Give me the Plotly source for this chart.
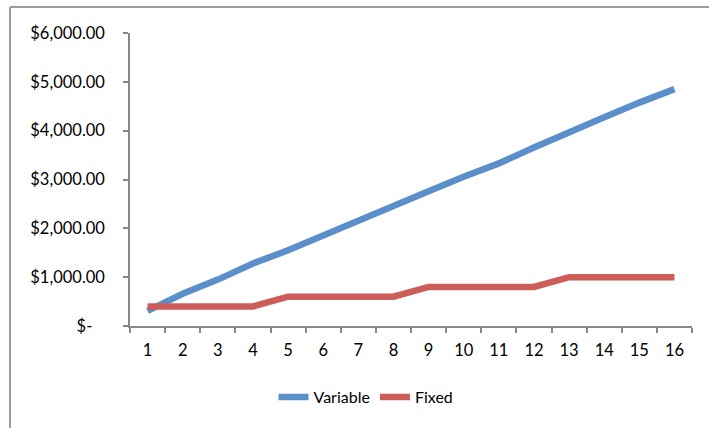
import plotly.graph_objects as go

# Monthly cost data
units = list(range(1, 17))
variable_cost = [310, 660, 950, 1280, 1550, 1860, 2170, 2470, 2760, 3055, 3330, 3655, 3980, 4275, 4575, 4850]
fixed_cost = [400, 400, 400, 400, 600, 600, 600, 600, 800, 800, 800, 800, 1000, 1000, 1000, 1000]

y_ticks = [0, 1000, 2000, 3000, 4000, 5000, 6000]
y_tick_labels = ["$-\u00a0\u00a0\u00a0", "$1,000.00", "$2,000.00", "$3,000.00",
                 "$4,000.00", "$5,000.00", "$6,000.00"]

BLUE = "#5A8FCA"
RED = "#CD5D58"
AXIS = "#878787"
FONT = "Lato"

fig = go.Figure()
fig.add_trace(go.Scatter(x=units, y=variable_cost, name="Variable", mode="lines",
                         line=dict(color=BLUE, width=6.5)))
fig.add_trace(go.Scatter(x=units, y=fixed_cost, name="Fixed", mode="lines",
                         line=dict(color=RED, width=6.5)))

W, H = 709, 428
L, R, T, B = 130, 17, 33, 102
pw, ph = W - L - R, H - T - B

def px_x(p):
    return (p - L) / pw

def px_y(p):
    return (H - B - p) / ph

# chart frame (left and top edges)
frame = dict(color="#9B9B9B", width=2)
fig.add_shape(type="line", xref="paper", yref="paper",
              x0=px_x(10), x1=px_x(10), y0=px_y(440), y1=px_y(7), line=frame)
fig.add_shape(type="line", xref="paper", yref="paper",
              x0=px_x(10), x1=px_x(720), y0=px_y(7), y1=px_y(7), line=frame)

fig.update_layout(
    width=W, height=H,
    margin=dict(l=L, r=R, t=T, b=B),
    paper_bgcolor="white", plot_bgcolor="white",
    font=dict(family=FONT, size=16, color="#000000"),
    showlegend=True,
    legend=dict(orientation="h", x=px_x(366), xanchor="center",
                y=px_y(397), yanchor="middle", font=dict(size=16),
                itemwidth=30, tracegroupgap=0),
    xaxis=dict(
        type="category", tickmode="array", tickvals=units, ticktext=[str(u) for u in units],
        range=[-0.5, 15.5], showgrid=False, showline=True, linecolor=AXIS, linewidth=1.5,
        ticks="outside", tickson="boundaries", ticklen=5, tickcolor=AXIS, tickwidth=1.5,
        tickfont=dict(size=16.5), zeroline=False, ticklabelstandoff=8,
    ),
    yaxis=dict(
        range=[0, 6000], tickvals=y_ticks, ticktext=y_tick_labels, showgrid=False,
        showline=True, linecolor=AXIS, linewidth=1.5, ticks="outside", ticklen=5,
        tickcolor=AXIS, tickwidth=1.5, tickfont=dict(size=16.5), zeroline=False, ticklabelstandoff=15,
    ),
)

fig.write_html("out.html")
